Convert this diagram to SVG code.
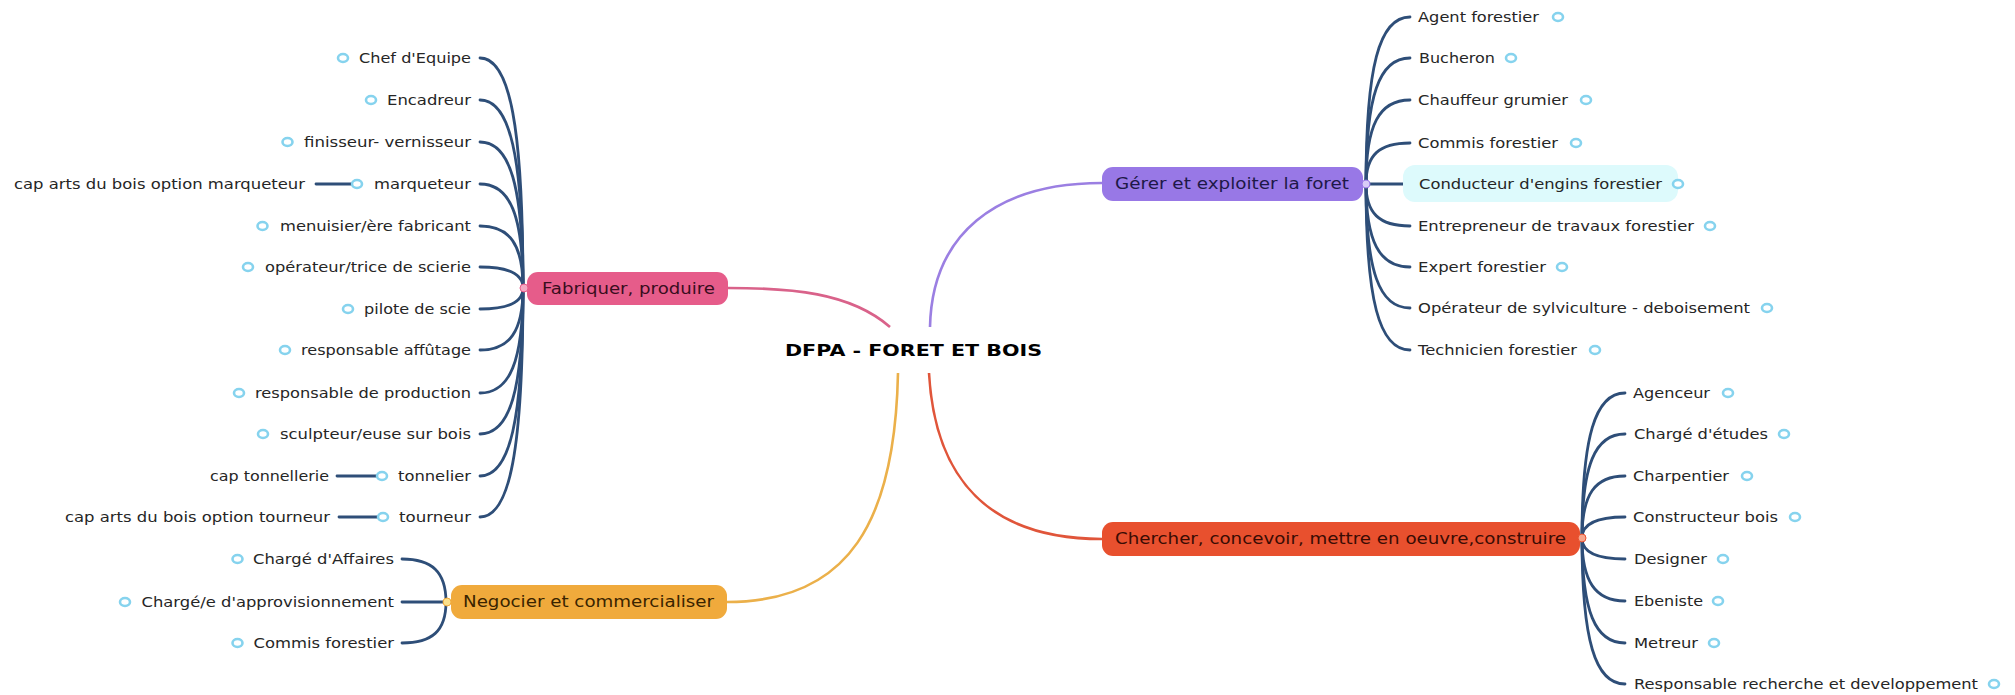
<svg xmlns="http://www.w3.org/2000/svg" width="2015" height="695" viewBox="0 0 2015 695">
<style>
.t{font-family:"DejaVu Sans",Verdana,sans-serif;font-size:14px;fill:#262626}
.bt{font-family:"DejaVu Sans",Verdana,sans-serif;font-size:15px}
.title{font-family:"DejaVu Sans",Verdana,sans-serif;font-size:16px;font-weight:bold;fill:#000}
.c{fill:none;stroke:#2E4E78;stroke-width:2.8;stroke-linecap:round}
.b{fill:#fff;stroke:#86D3EE;stroke-width:2.6}
</style>
<rect width="2015" height="695" fill="#fff"/>
<g id="connectors">
<path d="M890,327 C850,292 790,288 728,288" fill="none" stroke="#D9628A" stroke-width="2.6"/>
<path d="M930,327 C932,235 995,183 1102,183" fill="none" stroke="#9B7FE2" stroke-width="2.6"/>
<path d="M898,373 C895,520 850,602 727,602" fill="none" stroke="#EBB04A" stroke-width="2.6"/>
<path d="M929,373 C935,480 990,539 1102,539" fill="none" stroke="#E0553A" stroke-width="2.6"/>
<path class="c" d="M480,58 C510,58 523,127 523,288"/>
<path class="c" d="M480,100 C510,100 523,156 523,288"/>
<path class="c" d="M480,142 C510,142 523,186 523,288"/>
<path class="c" d="M480,184 C510,184 523,215 523,288"/>
<path class="c" d="M480,226 C510,226 523,245 523,288"/>
<path class="c" d="M480,267 C510,267 523,275 523,288"/>
<path class="c" d="M480,309 C510,309 523,302 523,288"/>
<path class="c" d="M480,350 C510,350 523,331 523,288"/>
<path class="c" d="M480,393 C510,393 523,361 523,288"/>
<path class="c" d="M480,434 C510,434 523,390 523,288"/>
<path class="c" d="M480,476 C510,476 523,420 523,288"/>
<path class="c" d="M480,517 C510,517 523,449 523,288"/>
<path class="c" d="M316,184 L352,184"/>
<path class="c" d="M337,476 L377,476"/>
<path class="c" d="M339,517 L378,517"/>
<path class="c" d="M402,559 C432,559 446,572 446,602"/>
<path class="c" d="M402,602 L446,602"/>
<path class="c" d="M402,643 C432,643 446,631 446,602"/>
<path class="c" d="M1410,17 C1379,17 1366,67 1366,184"/>
<path class="c" d="M1410,58 C1379,58 1366,96 1366,184"/>
<path class="c" d="M1410,100 C1379,100 1366,125 1366,184"/>
<path class="c" d="M1410,143 C1379,143 1366,155 1366,184"/>
<path class="c" d="M1366,184 L1403,184"/>
<path class="c" d="M1410,226 C1379,226 1366,213 1366,184"/>
<path class="c" d="M1410,267 C1379,267 1366,241 1366,184"/>
<path class="c" d="M1410,308 C1379,308 1366,271 1366,184"/>
<path class="c" d="M1410,350 C1379,350 1366,300 1366,184"/>
<path class="c" d="M1625,393 C1595,393 1582,437 1582,538"/>
<path class="c" d="M1625,434 C1595,434 1582,465 1582,538"/>
<path class="c" d="M1625,476 C1595,476 1582,494 1582,538"/>
<path class="c" d="M1625,517 C1595,517 1582,524 1582,538"/>
<path class="c" d="M1625,559 C1595,559 1582,552 1582,538"/>
<path class="c" d="M1625,601 C1595,601 1582,581 1582,538"/>
<path class="c" d="M1625,643 C1595,643 1582,611 1582,538"/>
<path class="c" d="M1625,684 C1595,684 1582,640 1582,538"/>
</g>
<g id="center"><text class="title" x="785" y="356" textLength="257" lengthAdjust="spacingAndGlyphs">DFPA - FORET ET BOIS</text></g>
<g id="fabriquer">
<rect x="527" y="272" width="201" height="33" rx="11" fill="#E65C8A"/>
<text class="bt" x="542" y="294" textLength="173" lengthAdjust="spacingAndGlyphs" fill="#3A0E1E">Fabriquer, produire</text>
<circle cx="524" cy="288" r="4" fill="#F4A9C4" stroke="#E65C8A" stroke-width="1"/>
</g>
<g id="gerer">
<rect x="1102" y="167" width="261" height="34" rx="11" fill="#9878E6"/>
<text class="bt" x="1115" y="189" textLength="234" lengthAdjust="spacingAndGlyphs" fill="#1E1848">Gérer et exploiter la foret</text>
<circle cx="1366" cy="184" r="4" fill="#D9CCF7" stroke="#9878E6" stroke-width="1"/>
</g>
<g id="chercher">
<rect x="1102" y="522" width="478" height="34" rx="11" fill="#E8502E"/>
<text class="bt" x="1115" y="544" textLength="451" lengthAdjust="spacingAndGlyphs" fill="#3A0C04">Chercher, concevoir, mettre en oeuvre,construire</text>
<circle cx="1582" cy="538" r="4" fill="#F6A58C" stroke="#E8502E" stroke-width="1"/>
</g>
<g id="negocier">
<rect x="451" y="585" width="276" height="34" rx="11" fill="#F0AA3C"/>
<text class="bt" x="463" y="607" textLength="251" lengthAdjust="spacingAndGlyphs" fill="#3A2400">Negocier et commercialiser</text>
<circle cx="447" cy="602" r="4" fill="#FBE08C" stroke="#F0AA3C" stroke-width="1"/>
</g>
<g id="fab-children">
<g id="n-chef"><text class="t" x="359" y="63" textLength="112" lengthAdjust="spacingAndGlyphs">Chef d'Equipe</text><ellipse class="b" cx="343" cy="58" rx="5" ry="4"/></g>
<g id="n-encadreur"><text class="t" x="387" y="105" textLength="84" lengthAdjust="spacingAndGlyphs">Encadreur</text><ellipse class="b" cx="371" cy="100" rx="5" ry="4"/></g>
<g id="n-finisseur"><text class="t" x="304" y="147" textLength="167" lengthAdjust="spacingAndGlyphs">finisseur- vernisseur</text><ellipse class="b" cx="287.5" cy="142" rx="5" ry="4"/></g>
<g id="n-marqueteur"><text class="t" x="374" y="189" textLength="97" lengthAdjust="spacingAndGlyphs">marqueteur</text><ellipse class="b" cx="357" cy="184" rx="5" ry="4"/></g>
<g id="n-cap-marq"><text class="t" x="14" y="189" textLength="291" lengthAdjust="spacingAndGlyphs">cap arts du bois option marqueteur</text></g>
<g id="n-menuisier"><text class="t" x="280" y="231" textLength="191" lengthAdjust="spacingAndGlyphs">menuisier/ère fabricant</text><ellipse class="b" cx="262.5" cy="226" rx="5" ry="4"/></g>
<g id="n-operateur"><text class="t" x="265" y="272" textLength="206" lengthAdjust="spacingAndGlyphs">opérateur/trice de scierie</text><ellipse class="b" cx="248" cy="267" rx="5" ry="4"/></g>
<g id="n-pilote"><text class="t" x="364" y="314" textLength="107" lengthAdjust="spacingAndGlyphs">pilote de scie</text><ellipse class="b" cx="348" cy="309" rx="5" ry="4"/></g>
<g id="n-affutage"><text class="t" x="301" y="355" textLength="170" lengthAdjust="spacingAndGlyphs">responsable affûtage</text><ellipse class="b" cx="285" cy="350" rx="5" ry="4"/></g>
<g id="n-production"><text class="t" x="255" y="398" textLength="216" lengthAdjust="spacingAndGlyphs">responsable de production</text><ellipse class="b" cx="239" cy="393" rx="5" ry="4"/></g>
<g id="n-sculpteur"><text class="t" x="280" y="439" textLength="191" lengthAdjust="spacingAndGlyphs">sculpteur/euse sur bois</text><ellipse class="b" cx="263" cy="434" rx="5" ry="4"/></g>
<g id="n-tonnelier"><text class="t" x="398" y="481" textLength="73" lengthAdjust="spacingAndGlyphs">tonnelier</text><ellipse class="b" cx="382" cy="476" rx="5" ry="4"/></g>
<g id="n-cap-tonn"><text class="t" x="210" y="481" textLength="119" lengthAdjust="spacingAndGlyphs">cap tonnellerie</text></g>
<g id="n-tourneur"><text class="t" x="399" y="522" textLength="72" lengthAdjust="spacingAndGlyphs">tourneur</text><ellipse class="b" cx="383" cy="517" rx="5" ry="4"/></g>
<g id="n-cap-tour"><text class="t" x="65" y="522" textLength="265" lengthAdjust="spacingAndGlyphs">cap arts du bois option tourneur</text></g>
</g>
<g id="neg-children">
<g id="n-affaires"><text class="t" x="253" y="564" textLength="141" lengthAdjust="spacingAndGlyphs">Chargé d'Affaires</text><ellipse class="b" cx="237.5" cy="559" rx="5" ry="4"/></g>
<g id="n-appro"><text class="t" x="141.5" y="607" textLength="252.5" lengthAdjust="spacingAndGlyphs">Chargé/e d'approvisionnement</text><ellipse class="b" cx="125" cy="602" rx="5" ry="4"/></g>
<g id="n-commis2"><text class="t" x="253.5" y="648" textLength="140.5" lengthAdjust="spacingAndGlyphs">Commis forestier</text><ellipse class="b" cx="237.5" cy="643" rx="5" ry="4"/></g>
</g>
<g id="ger-children">
<g id="n-agent"><text class="t" x="1418" y="22" textLength="121" lengthAdjust="spacingAndGlyphs">Agent forestier</text><ellipse class="b" cx="1558" cy="17" rx="5" ry="4"/></g>
<g id="n-bucheron"><text class="t" x="1419" y="63" textLength="76" lengthAdjust="spacingAndGlyphs">Bucheron</text><ellipse class="b" cx="1511" cy="58" rx="5" ry="4"/></g>
<g id="n-chauffeur"><text class="t" x="1418" y="105" textLength="150" lengthAdjust="spacingAndGlyphs">Chauffeur grumier</text><ellipse class="b" cx="1586" cy="100" rx="5" ry="4"/></g>
<g id="n-commis"><text class="t" x="1418" y="148" textLength="140" lengthAdjust="spacingAndGlyphs">Commis forestier</text><ellipse class="b" cx="1576" cy="143" rx="5" ry="4"/></g>
<g id="n-conducteur"><rect x="1403" y="165" width="275" height="37" rx="12" fill="#DDFAFC"/><text class="t" x="1419" y="189" textLength="243" lengthAdjust="spacingAndGlyphs">Conducteur d'engins forestier</text><ellipse class="b" cx="1678" cy="184" rx="5" ry="4"/></g>
<g id="n-entrepreneur"><text class="t" x="1418" y="231" textLength="276" lengthAdjust="spacingAndGlyphs">Entrepreneur de travaux forestier</text><ellipse class="b" cx="1710" cy="226" rx="5" ry="4"/></g>
<g id="n-expert"><text class="t" x="1418" y="272" textLength="128" lengthAdjust="spacingAndGlyphs">Expert forestier</text><ellipse class="b" cx="1562" cy="267" rx="5" ry="4"/></g>
<g id="n-sylvi"><text class="t" x="1418" y="313" textLength="332" lengthAdjust="spacingAndGlyphs">Opérateur de sylviculture - deboisement</text><ellipse class="b" cx="1767" cy="308" rx="5" ry="4"/></g>
<g id="n-technicien"><text class="t" x="1418" y="355" textLength="159" lengthAdjust="spacingAndGlyphs">Technicien forestier</text><ellipse class="b" cx="1595" cy="350" rx="5" ry="4"/></g>
</g>
<g id="che-children">
<g id="n-agenceur"><text class="t" x="1633" y="398" textLength="77" lengthAdjust="spacingAndGlyphs">Agenceur</text><ellipse class="b" cx="1728" cy="393" rx="5" ry="4"/></g>
<g id="n-etudes"><text class="t" x="1634" y="439" textLength="134" lengthAdjust="spacingAndGlyphs">Chargé d'études</text><ellipse class="b" cx="1784" cy="434" rx="5" ry="4"/></g>
<g id="n-charpentier"><text class="t" x="1633" y="481" textLength="96" lengthAdjust="spacingAndGlyphs">Charpentier</text><ellipse class="b" cx="1747" cy="476" rx="5" ry="4"/></g>
<g id="n-constructeur"><text class="t" x="1633" y="522" textLength="145" lengthAdjust="spacingAndGlyphs">Constructeur bois</text><ellipse class="b" cx="1795" cy="517" rx="5" ry="4"/></g>
<g id="n-designer"><text class="t" x="1634" y="564" textLength="73" lengthAdjust="spacingAndGlyphs">Designer</text><ellipse class="b" cx="1723" cy="559" rx="5" ry="4"/></g>
<g id="n-ebeniste"><text class="t" x="1634" y="606" textLength="69" lengthAdjust="spacingAndGlyphs">Ebeniste</text><ellipse class="b" cx="1718" cy="601" rx="5" ry="4"/></g>
<g id="n-metreur"><text class="t" x="1634" y="648" textLength="64" lengthAdjust="spacingAndGlyphs">Metreur</text><ellipse class="b" cx="1714" cy="643" rx="5" ry="4"/></g>
<g id="n-rd"><text class="t" x="1634" y="689" textLength="344" lengthAdjust="spacingAndGlyphs">Responsable recherche et developpement</text><ellipse class="b" cx="1994" cy="684" rx="5" ry="4"/></g>
</g>
</svg>
